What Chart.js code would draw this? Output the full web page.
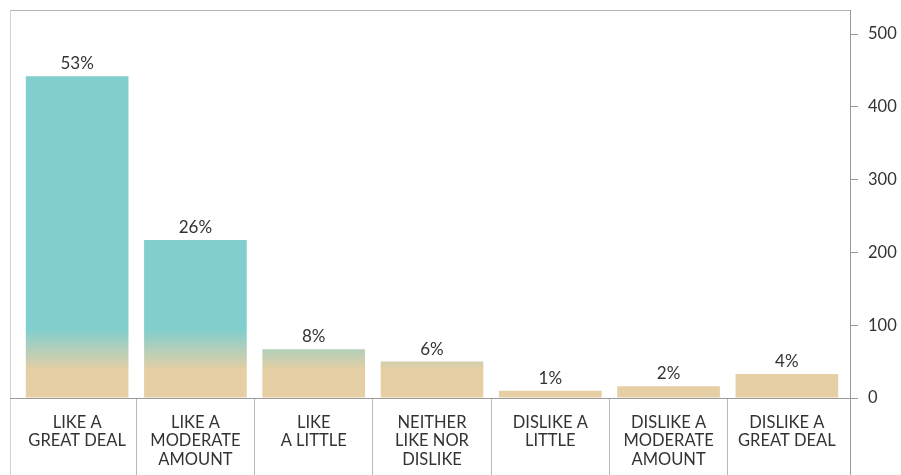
<!DOCTYPE html>
<html>
<head>
<meta charset="utf-8">
<script src="https://cdn.jsdelivr.net/npm/chart.js@4/dist/chart.umd.min.js"></script>
<style>
  html, body { margin: 0; padding: 0; background: #fff; }
  canvas { display: block; }
</style>
</head>
<body>
<canvas id="chart" width="901" height="475"></canvas>
<script>
// Survey responses: how much people like it
const categories = [
  ['LIKE A', 'GREAT DEAL'],
  ['LIKE A', 'MODERATE', 'AMOUNT'],
  ['LIKE', 'A LITTLE'],
  ['NEITHER', 'LIKE NOR', 'DISLIKE'],
  ['DISLIKE A', 'LITTLE'],
  ['DISLIKE A', 'MODERATE', 'AMOUNT'],
  ['DISLIKE A', 'GREAT DEAL']
];
const responses = [442, 217, 67, 50, 10, 16, 33];
const yTickValues = [0, 100, 200, 300, 400, 500];
const yMax = 533;

const total = responses.reduce((a, b) => a + b, 0);
const shareLabels = responses.map(v => Math.round(v / total * 100) + '%');

const TAN = '#E6CFA4';
const TEAL = '#80CECE';
const TEXT = '#333333';
const FONT = 'Lato, "Open Sans", sans-serif';

// Sand-to-teal fade anchored to the value axis, shared by all bars
function barFill(context) {
  const chart = context.chart;
  const y = chart.scales.y;
  if (!chart.chartArea || !y) return TAN;
  const g = chart.ctx.createLinearGradient(0, y.getPixelForValue(38), 0, y.getPixelForValue(95));
  g.addColorStop(0, TAN);
  g.addColorStop(1, TEAL);
  return g;
}

// Category band sits slightly inside the plot frame
const bandInset = {
  id: 'bandInset',
  afterLayout(chart) {
    const x = chart.scales.x;
    const area = chart.chartArea;
    x.left = area.left + 8;
    x.right = area.right - 4;
    x.width = x.right - x.left;
    x.configure();
  }
};

// Frame lines around plot and label strip
const frame = {
  id: 'frame',
  afterDraw(chart) {
    const c = chart.ctx;
    const a = chart.chartArea;
    const bottom = chart.height;
    c.save();
    c.lineWidth = 1;
    c.strokeStyle = '#d2d2d2';
    c.beginPath();
    c.moveTo(a.left + 0.5, a.top);
    c.lineTo(a.left + 0.5, bottom);
    c.stroke();
    c.strokeStyle = '#b4b4b4';
    c.beginPath();
    c.moveTo(a.left, a.top + 0.5);
    c.lineTo(a.right, a.top + 0.5);
    c.stroke();
    c.strokeStyle = '#9a9a9a';
    c.beginPath();
    c.moveTo(a.left, a.bottom + 0.5);
    c.lineTo(a.right, a.bottom + 0.5);
    c.moveTo(a.right + 0.5, a.bottom);
    c.lineTo(a.right + 0.5, bottom);
    c.stroke();
    c.restore();
  }
};

// Percentage share above each bar
const shareText = {
  id: 'shareText',
  afterDatasetsDraw(chart) {
    const c = chart.ctx;
    const meta = chart.getDatasetMeta(0);
    c.save();
    c.font = '17px ' + FONT;
    c.fillStyle = TEXT;
    c.textAlign = 'center';
    c.textBaseline = 'alphabetic';
    meta.data.forEach((bar, i) => {
      c.fillText(shareLabels[i], bar.x, bar.y - 7);
    });
    c.restore();
  }
};

new Chart(document.getElementById('chart'), {
  type: 'bar',
  data: {
    labels: categories,
    datasets: [{
      data: responses,
      backgroundColor: barFill,
      borderWidth: 0,
      categoryPercentage: 1,
      barPercentage: 0.868
    }]
  },
  options: {
    responsive: false,
    animation: false,
    devicePixelRatio: 1,
    layout: { padding: { top: 10, left: 10, right: 0, bottom: 0 } },
    plugins: { legend: { display: false }, tooltip: { enabled: false } },
    scales: {
      x: {
        position: 'bottom',
        offset: true,
        afterFit(scale) {
          scale.height = 77;
          scale.paddingLeft = 0;
          scale.paddingRight = 0;
        },
        border: { display: false },
        grid: {
          offset: true,
          drawOnChartArea: false,
          drawTicks: true,
          tickLength: 77,
          lineWidth: 1,
          color: ctx => (ctx.type !== 'tick' || ctx.index === 0) ? 'rgba(0,0,0,0)' : '#b8b8b8'
        },
        ticks: {
          color: TEXT,
          font: { family: FONT, size: 16.5, lineHeight: 1.12 },
          padding: -62,
          maxRotation: 0,
          autoSkip: false
        }
      },
      y: {
        position: 'right',
        min: 0,
        max: yMax,
        afterFit(scale) {
          scale.width = 51;
          scale.paddingTop = 0;
          scale.paddingBottom = 0;
        },
        afterBuildTicks(scale) {
          scale.ticks = yTickValues.map(v => ({ value: v }));
        },
        border: { display: true, color: '#9a9a9a', width: 1 },
        grid: {
          drawOnChartArea: false,
          drawTicks: true,
          tickLength: 8,
          color: '#9a9a9a'
        },
        ticks: {
          color: TEXT,
          font: { family: FONT, size: 16.5 },
          padding: 10,
          includeBounds: false
        }
      }
    }
  },
  plugins: [bandInset, frame, shareText]
});
</script>
</body>
</html>
